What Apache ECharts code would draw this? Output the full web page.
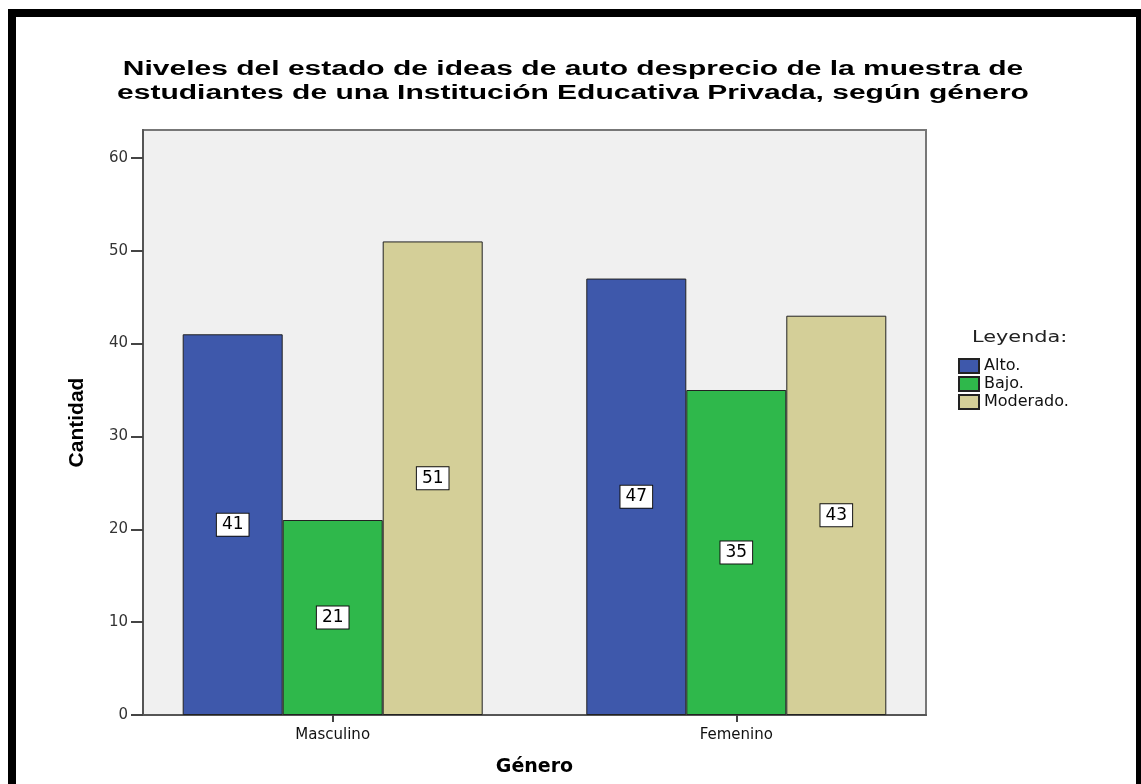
<!DOCTYPE html>
<html>
<head>
<meta charset="utf-8">
<script src="https://cdn.jsdelivr.net/npm/echarts@6/dist/echarts.min.js"></script>
<style>
html,body{margin:0;padding:0;background:#fff;}
#chart{width:1141px;height:784px;}
</style>
</head>
<body>
<div id="chart"></div>
<script>
const categories = ['Masculino', 'Femenino'];
const seriesNames = ['Alto.', 'Bajo.', 'Moderado.'];
const alto = [41, 47];
const bajo = [21, 35];
const moderado = [51, 43];
const yTicks = [0, 10, 20, 30, 40, 50, 60];
const titleText = 'Niveles del estado de ideas de auto desprecio de la muestra de\nestudiantes de una Institución Educativa Privada, según género';

const colors = ['#3e58ab', '#2fb84b', '#d4cf98'];
const values = [alto, bajo, moderado];
const catIdx = categories.map((c, i) => i);

const chart = echarts.init(document.getElementById('chart'));
const option = {
  animation: false,
  backgroundColor: '#ffffff',
  legend: {
    orient: 'vertical',
    left: 958,
    top: 358,
    padding: 0,
    itemWidth: 20,
    itemHeight: 14,
    itemGap: 2,
    icon: 'rect',
    data: seriesNames,
    textStyle: { fontFamily: 'DejaVu Sans', fontSize: 16, lineHeight: 16, color: '#111' }
  },
  grid: {
    show: true,
    left: 143,
    top: 130,
    right: 215,
    bottom: 69,
    outerBoundsMode: 'none',
    backgroundColor: '#f0f0f0',
    borderColor: '#777',
    borderWidth: 2,
    containLabel: false
  },
  xAxis: {
    type: 'value',
    min: -0.47,
    max: 1.47,
    name: 'Género',
    nameLocation: 'middle',
    nameGap: 43,
    nameTextStyle: { fontFamily: 'DejaVu Sans', fontWeight: 'bold', fontSize: 19, color: '#000' },
    splitLine: { show: false },
    axisLine: { show: true, onZero: false, lineStyle: { color: '#555', width: 2 } },
    axisTick: { show: true, customValues: catIdx, length: 7, lineStyle: { color: '#444', width: 2 } },
    axisLabel: {
      customValues: catIdx,
      formatter: v => categories[Math.round(v)],
      fontFamily: 'DejaVu Sans',
      fontSize: 15,
      color: '#111',
      margin: 13
    }
  },
  yAxis: {
    type: 'value',
    min: 0,
    max: 63,
    interval: 10,
    name: 'Cantidad',
    nameLocation: 'middle',
    nameGap: 55,
    nameRotate: 90,
    nameTextStyle: { fontFamily: 'Liberation Sans Narrow, Liberation Sans', fontWeight: 'bold', fontSize: 21, color: '#000' },
    splitLine: { show: false },
    axisLine: { show: true, onZero: false, lineStyle: { color: '#555', width: 2 } },
    axisTick: { show: true, customValues: yTicks, length: 12, lineStyle: { color: '#444', width: 2 } },
    axisLabel: {
      customValues: yTicks,
      fontFamily: 'DejaVu Sans',
      fontSize: 15,
      color: '#333',
      margin: 15
    }
  },
  series: seriesNames.map((name, s) => ({
    name: name,
    type: 'bar',
    barWidth: 100,
    barGap: '0%',
    data: values[s].map((v, i) => [catIdx[i], v]),
    itemStyle: { color: colors[s], borderColor: '#222', borderWidth: 1 },
    label: {
      show: true,
      position: 'inside',
      formatter: p => String(p.value[1]),
      fontFamily: 'DejaVu Sans',
      fontSize: 17,
      lineHeight: 17,
      color: '#000',
      backgroundColor: '#fff',
      borderColor: '#111',
      borderWidth: 1,
      padding: [3, 5, 2, 5]
    }
  })),
  graphic: [
    {
      type: 'rect',
      shape: { x: 12, y: 13, width: 1128, height: 820 },
      style: { fill: 'none', stroke: '#000', lineWidth: 8 },
      silent: true
    },
    {
      type: 'text',
      x: 573,
      y: 57,
      scaleX: 1.5,
      style: {
        text: titleText,
        x: 0,
        y: 0,
        align: 'center',
        verticalAlign: 'top',
        fontFamily: 'Liberation Sans',
        fontWeight: 'bold',
        fontSize: 20,
        lineHeight: 24,
        fill: '#000'
      }
    },
    {
      type: 'text',
      x: 972,
      y: 330,
      scaleX: 1.3,
      style: { text: 'Leyenda:', x: 0, y: 0, fontFamily: 'DejaVu Sans', fontSize: 16, fill: '#222' }
    }
  ]
};
chart.setOption(option);
</script>
</body>
</html>
